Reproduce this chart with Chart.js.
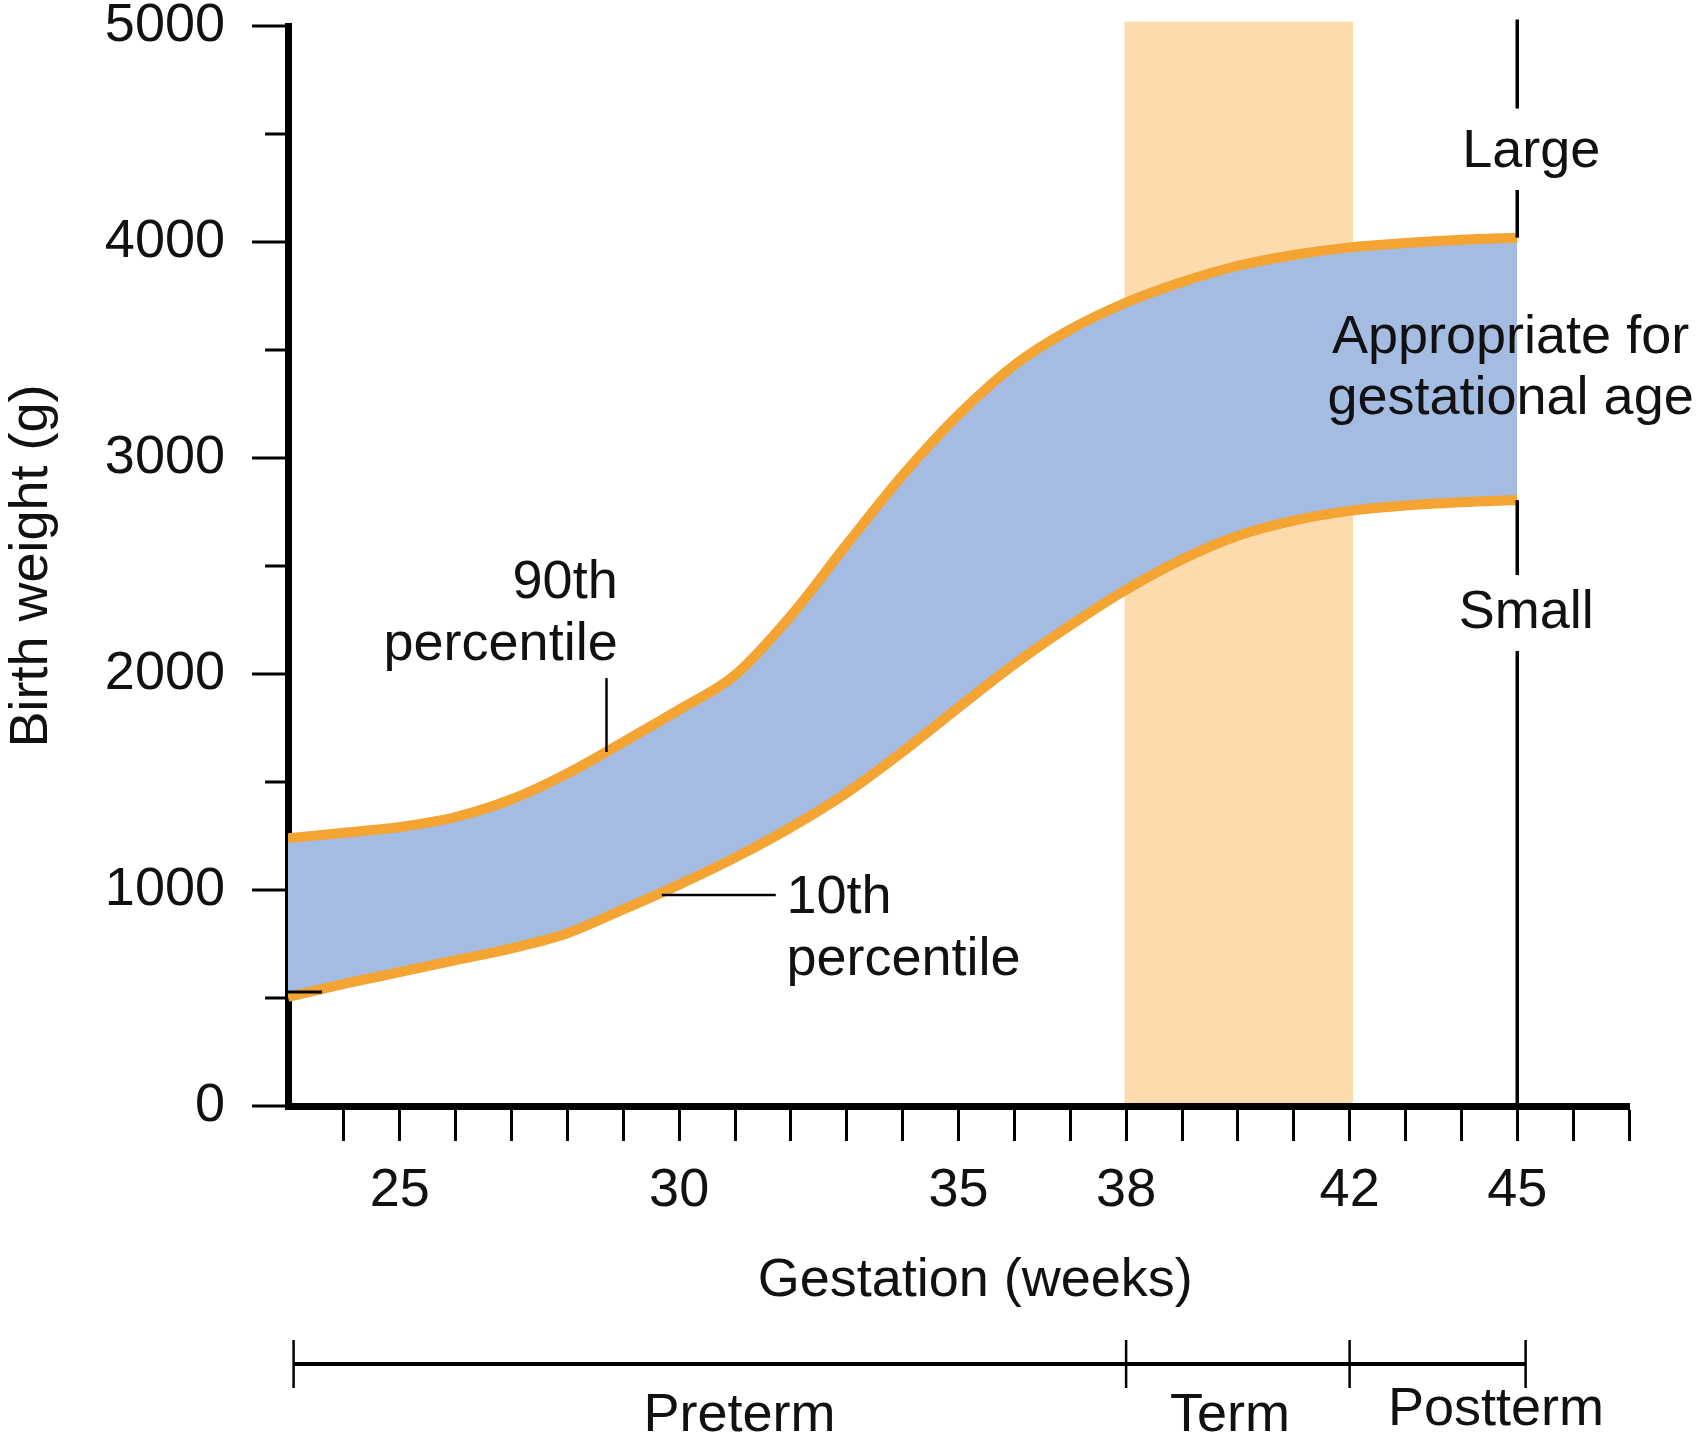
<!DOCTYPE html>
<html>
<head>
<meta charset="utf-8">
<script src="https://cdn.jsdelivr.net/npm/chart.js@4.4.1/dist/chart.umd.min.js"></script>
<style>
  html, body { margin: 0; padding: 0; background: #fff; }
  canvas { display: block; }
</style>
</head>
<body>
<canvas id="chart" width="1701" height="1447"></canvas>
<script>
// gestation weeks and birth weight percentiles (g)
const weeks = [23, 24, 25, 26, 27, 28, 29, 30, 31, 32, 33, 34, 35, 36, 37, 38, 39, 40, 41, 42, 43, 44, 45];
const p90 = [1240, 1265, 1292, 1338, 1420, 1540, 1685, 1835, 1995, 2270, 2600, 2920, 3200, 3430, 3595, 3720, 3815, 3890, 3940, 3975, 3995, 4010, 4020];
const p10 = [505, 565, 620, 675, 730, 800, 910, 1025, 1150, 1290, 1450, 1640, 1845, 2045, 2225, 2390, 2530, 2640, 2710, 2755, 2780, 2795, 2805];

const xLabelWeeks = [25, 30, 35, 38, 42, 45];
const yLabelValues = [0, 1000, 2000, 3000, 4000, 5000];

const termStart = 38, termEnd = 42, postTerm = 45;

const ORANGE = '#F4A433';
const BLUE = '#A4BCE2';
const PEACH = '#FDDBAC';
const FONT = '"Liberation Sans", Arial, sans-serif';

const extras = {
    id: 'extras',

    beforeDraw(chart) {
        const { ctx, scales: { x, y } } = chart;
        ctx.save();
        ctx.fillStyle = '#fff';
        ctx.fillRect(0, 0, chart.width, chart.height);
        // term band
        ctx.fillStyle = PEACH;
        const x1 = x.getPixelForValue(termStart - 0.03), x2 = x.getPixelForValue(termEnd + 0.06);
        const yt = y.getPixelForValue(5020), yb = y.getPixelForValue(0);
        ctx.fillRect(x1, yt, x2 - x1, yb - yt);
        ctx.restore();
    },

    afterDatasetsDraw(chart) {
        const { ctx, scales: { x, y } } = chart;
        const px = v => x.getPixelForValue(v);
        const py = v => y.getPixelForValue(v);
        const line = (xa, ya, xb, yb, w) => {
            ctx.lineWidth = w;
            ctx.beginPath();
            ctx.moveTo(xa, ya);
            ctx.lineTo(xb, yb);
            ctx.stroke();
        };

        ctx.save();
        ctx.strokeStyle = '#000';
        ctx.fillStyle = '#111';

        // y ticks, long at labelled values
        y.ticks.forEach(t => {
            const len = yLabelValues.includes(t.value) ? 36 : 23;
            const yy = py(t.value);
            line(x.left - len, yy, x.left, yy, 3);
        });

        // postterm divider with gaps for labels
        const xp = px(postTerm);
        [[5030, 4618], [4241, p90[p90.length - 1]], [p10[p10.length - 1], 2458], [2106, 0]].forEach(([a, b]) => {
            line(xp, py(a), xp, py(b), 3.5);
        });

        // leader lines
        line(px(28.7), py(1981), px(28.7), py(1639), 2.5);
        line(px(29.69), py(977), px(31.73), py(977), 2.5);
        line(x.left, py(528), x.left + 34, py(528), 3);

        // annotations
        ctx.font = '54px ' + FONT;
        ctx.textBaseline = 'middle';
        ctx.textAlign = 'right';
        ctx.fillText('90th', px(28.9), py(2421));
        ctx.fillText('percentile', px(28.9), py(2134));
        ctx.textAlign = 'left';
        ctx.fillText('10th', px(31.92), py(963));
        ctx.fillText('percentile', px(31.92), py(676));
        ctx.textAlign = 'center';
        ctx.fillText('Large', px(45.25), py(4417));
        ctx.fillText('Appropriate for', px(44.88), py(3556));
        ctx.fillText('gestational age', px(44.88), py(3273));
        ctx.fillText('Small', px(45.16), py(2282));

        // x title
        ctx.fillText('Gestation (weeks)', px(35.3), 1281);

        // bottom period bracket
        const yb = 1364;
        line(px(23.1), yb, px(45.15), yb, 4);
        [23.1, termStart, termEnd, 45.15].forEach(w => line(px(w), yb - 24, px(w), yb + 24, 2.5));
        ctx.fillText('Preterm', px(31.08), 1416);
        ctx.fillText('Term', px(39.86), 1416);
        ctx.fillText('Postterm', px(44.62), 1410);

        ctx.restore();
    }
};

new Chart(document.getElementById('chart'), {
    type: 'line',
    plugins: [extras],
    data: {
        datasets: [
            {
                label: '90th percentile',
                data: weeks.map((w, i) => ({ x: w, y: p90[i] })),
                borderColor: ORANGE,
                borderWidth: 10,
                backgroundColor: BLUE,
                fill: '+1',
                pointRadius: 0,
                cubicInterpolationMode: 'monotone'
            },
            {
                label: '10th percentile',
                data: weeks.map((w, i) => ({ x: w, y: p10[i] })),
                borderColor: ORANGE,
                borderWidth: 10,
                fill: false,
                pointRadius: 0,
                cubicInterpolationMode: 'monotone'
            }
        ]
    },
    options: {
        responsive: false,
        animation: false,
        devicePixelRatio: 1,
        layout: { padding: { left: 0, top: 26, right: 72, bottom: 0 } },
        plugins: {
            legend: { display: false },
            tooltip: { enabled: false },
            filler: { drawTime: 'beforeDatasetsDraw' }
        },
        scales: {
            x: {
                type: 'linear',
                min: 23,
                max: 47,
                afterFit(scale) {
                    scale.height = 341;
                    scale.paddingLeft = 0;
                    scale.paddingRight = 0;
                },
                border: { display: true, color: '#000', width: 7 },
                grid: {
                    drawOnChartArea: false,
                    drawTicks: true,
                    tickLength: 35,
                    tickWidth: 3,
                    tickColor: c => (c.tick && c.tick.value === 23 ? 'rgba(0,0,0,0)' : '#000')
                },
                ticks: {
                    stepSize: 1,
                    autoSkip: false,
                    maxRotation: 0,
                    padding: 18,
                    color: '#111',
                    font: { family: FONT, size: 54 },
                    callback: v => (xLabelWeeks.includes(v) ? String(v) : '')
                }
            },
            y: {
                min: 0,
                max: 5000,
                afterFit(scale) {
                    scale.width = 288;
                    scale.paddingTop = 0;
                    scale.paddingBottom = 0;
                },
                border: { display: true, color: '#000', width: 7 },
                grid: { drawOnChartArea: false, drawTicks: false },
                ticks: {
                    stepSize: 500,
                    padding: 63,
                    color: '#111',
                    font: { family: FONT, size: 54 },
                    callback: v => (yLabelValues.includes(v) ? String(v) : '')
                },
                title: {
                    display: true,
                    text: 'Birth weight (g)',
                    color: '#111',
                    font: { family: FONT, size: 54 },
                    padding: 0
                }
            }
        }
    }
});
</script>
</body>
</html>
